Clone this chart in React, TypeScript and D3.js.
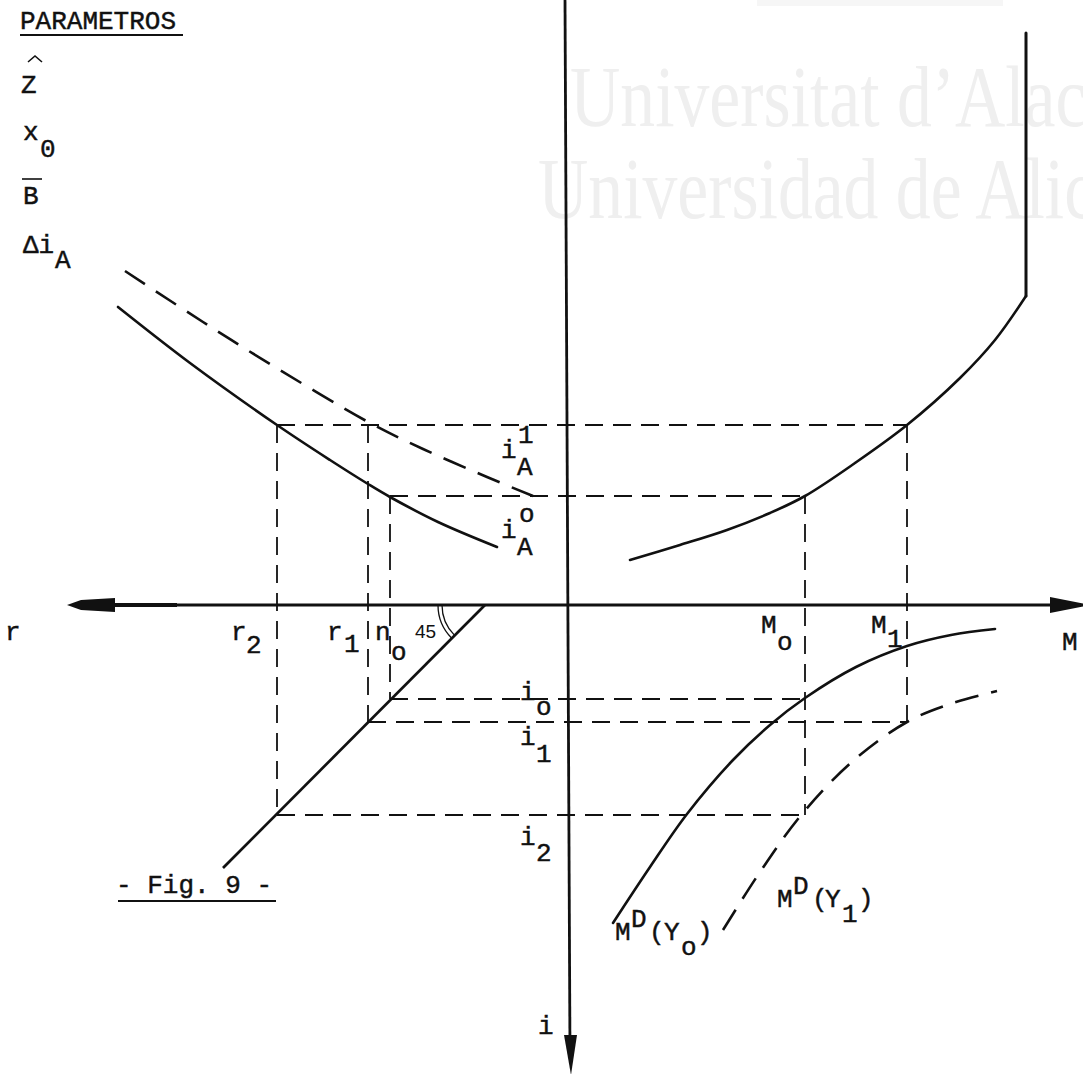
import React from "react";
import * as d3 from "d3";

const WIDTH = 1083;
const HEIGHT = 1074;

// Diagram units: origin where the r/M axis crosses the i axis.
// Positive x = M side, negative x = r side; positive y = upper (i_A) quadrants.
const domainX: [number, number] = [-567, 516];
const domainY: [number, number] = [605, -469];

// Construction levels on the i axis
const levelNames = ["iA1", "iA0", "io", "i1", "i2"];
const levelValues = [180, 109, -94, -117, -210];
// Positions on the r axis
const rNames = ["r2", "r1", "r0"];
const rValues = [-290, -199, -177];
// Positions on the M axis
const mNames = ["M0", "M1"];
const mValues = [238, 340];

// Curves
const iA0Curve: [number, number][] = [
  [-449, 298], [-377, 242], [-290, 180], [-237, 145], [-199, 121], [-177, 108], [-129, 83], [-70, 58],
];
const iA1Curve: [number, number][] = [
  [-442, 334], [-364, 283], [-297, 241], [-197, 182], [-144, 156], [-80, 128], [-34, 109],
];
const supplyCurve: [number, number][] = [
  [63, 45], [113, 60], [160, 75], [203, 92], [238, 109], [288, 142], [340, 180], [393, 227], [428, 265], [459, 309],
];
const supplyVertical: [number, number][] = [[459, 309], [459, 572]];
const demandY0: [number, number][] = [
  [46, -318], [83, -262], [120, -209], [166, -155], [203, -120], [238, -93], [289, -62], [340, -41], [384, -30], [428, -24],
];
const demandY1: [number, number][] = [
  [156, -325], [193, -267], [235, -209], [286, -156], [340, -117], [383, -99], [430, -86],
];
const line45: [number, number][] = [[-82, 0], [-344, -263]];

// Axis extents
const rAxisEnd = -500;
const mAxisEnd = 523;
const iAxisTop = 605;
const iAxisBottom = -470;

// Text
const paramTitle = "PARAMETROS";
const paramNames = ["Z", "x", "B", "Δi"];
const watermark = ["Universitat d’Alacant", "Universidad de Alicante"];
const caption = "- Fig. 9 -";

const x = d3.scaleLinear().domain(domainX).range([0, WIDTH]);
const y = d3.scaleLinear().domain(domainY).range([0, HEIGHT]);

const curve = d3
  .line<[number, number]>()
  .x((d) => x(d[0]))
  .y((d) => y(d[1]))
  .curve(d3.curveCatmullRom.alpha(0.5));
const straight = d3
  .line<[number, number]>()
  .x((d) => x(d[0]))
  .y((d) => y(d[1]));

const lv = (n: string) => levelValues[levelNames.indexOf(n)];
const rv = (n: string) => rValues[rNames.indexOf(n)];
const mv = (n: string) => mValues[mNames.indexOf(n)];

const hGuides: [number, number, number][] = [
  [lv("iA1"), rv("r2"), mv("M1")],
  [lv("iA0"), rv("r0"), mv("M0")],
  [lv("io"), rv("r0"), mv("M0")],
  [lv("i1"), rv("r1"), mv("M1")],
  [lv("i2"), rv("r2"), mv("M0")],
];
const vGuides: [number, number, number][] = [
  [rv("r2"), lv("iA1"), lv("i2")],
  [rv("r1"), lv("iA1"), lv("i1")],
  [rv("r0"), lv("iA0"), lv("io")],
  [mv("M0"), lv("iA0"), lv("i2")],
  [mv("M1"), lv("iA1"), lv("i1")],
];

const FONT = "'Liberation Mono', 'DejaVu Sans Mono', monospace";
const INK = "#111";

const T = ({ x, y, children, size = 26 }: { x: number; y: number; children: React.ReactNode; size?: number }) => (
  <text x={x} y={y} fontFamily={FONT} fontSize={size} fill={INK} stroke={INK} strokeWidth={0.45}>
    {children}
  </text>
);

export default function App() {
  const ox = x(0);
  const oy = y(0);
  const arcPath = (r: number) => {
    const p = d3.path();
    const cx = x(line45[0][0]);
    const cy = y(line45[0][1]);
    p.arc(cx, cy, r, Math.PI, (3 * Math.PI) / 4, true);
    return p.toString();
  };
  const leftTip = x(rAxisEnd);
  const rightTip = x(mAxisEnd);
  const bottomTip = y(iAxisBottom);

  return (
    <svg
      width={WIDTH}
      height={HEIGHT}
      viewBox={`0 0 ${WIDTH} ${HEIGHT}`}
      style={{ position: "absolute", left: 0, top: 0, background: "#fff" }}
    >
      <rect width={WIDTH} height={HEIGHT} fill="#fff" />
      {/* watermark */}
      <rect x={757} y={0} width={246} height={6} fill="#f6f6f6" />
      <g fill="#efefef" fontFamily="'Liberation Serif', serif" fontSize={86}>
        <text transform="translate(570,126) scale(0.81,1)">{watermark[0]}</text>
        <text transform="translate(538,218) scale(0.81,1)">{watermark[1]}</text>
      </g>

      {/* construction guides */}
      <g stroke={INK} strokeWidth={1.8} strokeDasharray="18,10" fill="none">
        {hGuides.map(([lvl, a, b], i) => (
          <line key={"h" + i} x1={x(a)} x2={x(b)} y1={y(lvl)} y2={y(lvl)} />
        ))}
        {vGuides.map(([pos, a, b], i) => (
          <line key={"v" + i} x1={x(pos)} x2={x(pos)} y1={y(a)} y2={y(b)} />
        ))}
      </g>

      {/* axes */}
      <g stroke={INK} fill="none">
        <line x1={leftTip + 40} x2={rightTip - 30} y1={oy} y2={oy} strokeWidth={2.8} />
        <line x1={leftTip + 40} x2={leftTip + 110} y1={oy} y2={oy} strokeWidth={4} />
        <line x1={ox - 2} x2={ox + 3} y1={y(iAxisTop)} y2={bottomTip - 20} strokeWidth={2.8} />
      </g>
      <g fill={INK} stroke="none">
        <path d={`M${leftTip},${oy} L${leftTip + 14},${oy - 5} L${leftTip + 48},${oy - 7} L${leftTip + 48},${oy + 7} L${leftTip + 14},${oy + 5} Z`} />
        <path d={`M${rightTip - 40},${oy - 8} L${rightTip},${oy} L${rightTip - 40},${oy + 8} Z`} />
        <path d={`M${ox - 3},${bottomTip - 40} L${ox + 10},${bottomTip - 40} L${ox + 4},${bottomTip} Z`} />
      </g>

      {/* 45 degree line and angle mark */}
      <path d={straight(line45) || ""} stroke={INK} strokeWidth={2.7} fill="none" />
      <path d={arcPath(43)} stroke={INK} strokeWidth={1.3} fill="none" />
      <path d={arcPath(47)} stroke={INK} strokeWidth={1.3} fill="none" />

      {/* curves */}
      <g stroke={INK} fill="none" strokeWidth={2.6} strokeLinecap="round">
        <path d={curve(iA0Curve) || ""} />
        <path d={curve(iA1Curve) || ""} strokeDasharray="24,13" strokeLinecap="butt" />
        <path d={curve(supplyCurve) || ""} />
        <path d={straight(supplyVertical) || ""} strokeWidth={3} />
        <path d={curve(demandY0) || ""} />
        <path d={curve(demandY1) || ""} strokeDasharray="24,13" strokeLinecap="butt" />
      </g>

      {/* parameters block */}
      <T x={20} y={29}>{paramTitle}</T>
      <line x1={20} x2={183} y1={35} y2={35} stroke={INK} strokeWidth={2} />
      <path d="M28,62 L35,56 L42,62" stroke={INK} strokeWidth={1.6} fill="none" />
      <T x={21} y={93}>{paramNames[0]}</T>
      <T x={23} y={140}>{paramNames[1]}</T>
      <T x={40} y={157}>0</T>
      <line x1={22} x2={42} y1={179} y2={179} stroke={INK} strokeWidth={1.6} />
      <T x={23} y={204}>{paramNames[2]}</T>
      <T x={23} y={253}>{paramNames[3]}</T>
      <T x={55} y={268}>A</T>

      {/* r axis labels */}
      <T x={5} y={640}>r</T>
      <T x={x(rv("r2")) - 46} y={640}>r</T>
      <T x={x(rv("r2")) - 31} y={653}>2</T>
      <T x={x(rv("r1")) - 41} y={640}>r</T>
      <T x={x(rv("r1")) - 24} y={652}>1</T>
      <T x={x(rv("r0")) - 15} y={640}>n</T>
      <T x={x(rv("r0")) + 1} y={660}>o</T>
      <text x={415} y={638} fontFamily="'Liberation Sans', sans-serif" fontSize={19} fill={INK}>45</text>

      {/* M axis labels */}
      <T x={x(mv("M0")) - 44} y={633}>M</T>
      <T x={x(mv("M0")) - 28} y={650}>o</T>
      <T x={x(mv("M1")) - 36} y={633}>M</T>
      <T x={x(mv("M1")) - 20} y={647}>1</T>
      <T x={1062} y={650}>M</T>

      {/* i axis labels */}
      <T x={501} y={458}>i</T>
      <T x={518} y={443}>1</T>
      <T x={517} y={475}>A</T>
      <T x={501} y={538}>i</T>
      <T x={519} y={522}>o</T>
      <T x={517} y={555}>A</T>
      <T x={520} y={700}>i</T>
      <T x={536} y={715}>o</T>
      <T x={520} y={745}>i</T>
      <T x={536} y={762}>1</T>
      <T x={520} y={845}>i</T>
      <T x={536} y={861}>2</T>
      <T x={538} y={1034}>i</T>

      {/* demand curve labels */}
      <T x={615} y={940}>M</T>
      <T x={631} y={927}>D</T>
      <T x={649} y={940}>(</T>
      <T x={664} y={940}>Y</T>
      <T x={681} y={955}>o</T>
      <T x={697} y={940}>)</T>
      <T x={777} y={907}>M</T>
      <T x={793} y={894}>D</T>
      <T x={812} y={907}>(</T>
      <T x={825} y={907}>Y</T>
      <T x={842} y={922}>1</T>
      <T x={858} y={907}>)</T>

      {/* figure caption */}
      <T x={116} y={893}>{caption}</T>
      <line x1={118} x2={276} y1={901} y2={901} stroke={INK} strokeWidth={2} />
    </svg>
  );
}
